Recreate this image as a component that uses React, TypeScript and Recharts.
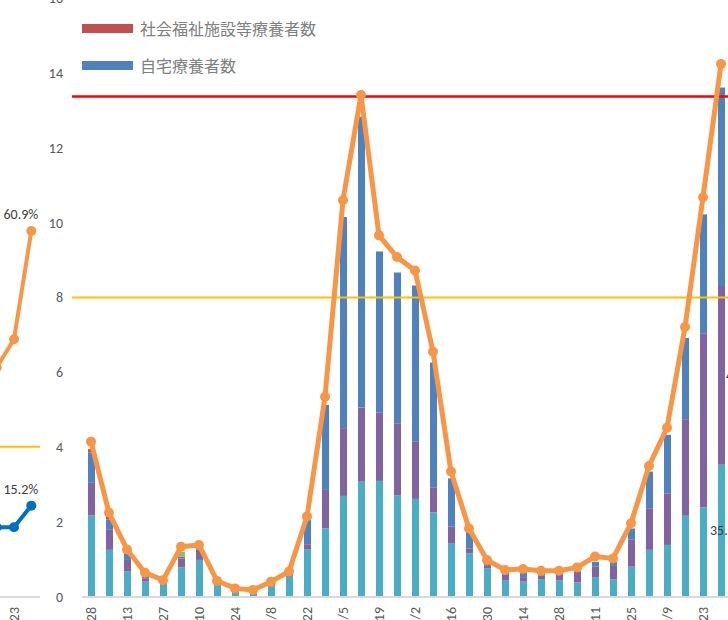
import React from 'react';
import { ComposedChart, Bar, Line, XAxis, YAxis, ReferenceLine, LabelList } from 'recharts';

// week labels (only every other one is printed)
const dates = [
  '2/28', '3/6', '3/13', '3/20', '3/27', '4/3', '4/10', '4/17', '4/24', '5/1',
  '5/8', '5/15', '5/22', '5/29', '6/5', '6/12', '6/19', '6/26', '7/2', '7/9',
  '7/16', '7/23', '7/30', '8/7', '8/14', '8/21', '8/28', '9/4', '9/11', '9/18',
  '9/25', '10/2', '10/9', '10/16', '10/23', '10/30',
];

// stacked segments (thousands)
const nyuin = [
  2.18, 1.26, 0.69, 0.41, 0.37, 0.79, 0.99, 0.32, 0.17, 0.08, 0.29, 0.54,
  1.28, 1.83, 2.7, 3.08, 3.1, 2.72, 2.62, 2.26, 1.44, 1.17, 0.77, 0.45,
  0.41, 0.48, 0.45, 0.39, 0.53, 0.47, 0.81, 1.26, 1.39, 2.17, 2.39, 3.53,
];
const shukuhaku = [
  0.87, 0.55, 0.3, 0.09, 0.03, 0.24, 0.27, 0.03, 0.02, 0.02, 0.03, 0.04,
  0.13, 1.03, 1.81, 1.98, 1.83, 1.92, 1.53, 0.67, 0.44, 0.13, 0.08, 0.14,
  0.12, 0.09, 0.14, 0.29, 0.28, 0.36, 0.73, 1.11, 1.38, 2.58, 4.64, 4.78,
];
const jitaku = [
  0.81, 0.26, 0.18, 0.09, 0.03, 0.05, 0.04, 0.02, 0.01, 0.01, 0.02, 0.03,
  0.65, 2.27, 5.64, 7.77, 4.3, 4.03, 4.17, 3.33, 1.29, 0.45, 0.07, 0.06,
  0.13, 0.05, 0.04, 0.03, 0.13, 0.11, 0.29, 0.98, 1.56, 2.17, 3.19, 5.3,
];
const chousei = [
  0, 0, 0, 0, 0, 0.13, 0, 0, 0, 0, 0, 0,
  0, 0, 0, 0, 0, 0, 0, 0, 0, 0, 0, 0,
  0, 0, 0, 0, 0, 0, 0, 0, 0, 0, 0, 0,
];
const shisetsu = [
  0.09, 0.07, 0.02, 0, 0, 0, 0, 0, 0, 0, 0, 0,
  0, 0, 0, 0, 0, 0, 0, 0, 0, 0, 0, 0,
  0, 0, 0, 0, 0, 0, 0, 0, 0, 0, 0, 0,
];
const total = [
  4.15, 2.25, 1.27, 0.65, 0.45, 1.34, 1.39, 0.43, 0.23, 0.19, 0.41, 0.68,
  2.15, 5.35, 10.6, 13.41, 9.66, 9.08, 8.72, 6.55, 3.35, 1.83, 0.99, 0.72,
  0.75, 0.7, 0.7, 0.79, 1.08, 1.03, 1.97, 3.5, 4.52, 7.21, 10.68, 14.24,
];
const yTicks = [0, 2, 4, 6, 8, 10, 12, 14, 16];
const redLine = 13.37;
const yellowLine = 8.0;
const lastLabels = { nyuin: '35.9%', shukuhaku: '41.4%' };

const legendItems = [
  { name: '社会福祉施設等療養者数', color: '#C0504D' },
  { name: '自宅療養者数', color: '#4F81BD' },
];

// neighbouring chart, right edge only
const leftDates = ['10/16', '10/23', '10/30'];
const leftOrange = [38.2, 42.9, 60.9];
const leftBlue = [11.6, 11.6, 15.2];
const leftShown = '10/23';
const leftLine = 25;

const data = dates.map((d, i) => ({
  date: d,
  nyuin: nyuin[i],
  shukuhaku: shukuhaku[i],
  jitaku: jitaku[i],
  chousei: chousei[i],
  shisetsu: shisetsu[i],
  total: total[i],
}));

const leftData = leftDates.map((d, i) => ({ date: d, a: leftOrange[i], b: leftBlue[i] }));

const FONT = 'Calibri, Carlito, "Noto Sans", "Noto Sans CJK JP", sans-serif';

const DateTick = (props: any) => {
  const { x, y, payload, index, show } = props;
  if (!show(payload.value, index)) return <g />;
  return (
    <text
      transform={`translate(${x},${y + 2}) rotate(-90)`}
      textAnchor="end"
      dy="0.35em"
      fill="#595959"
      fontSize={14}
      fontFamily={FONT}
    >
      {payload.value}
    </text>
  );
};

const extLine = (color: string, w: number) => (p: any) =>
  <line x1={p.x1 - 10} y1={p.y1} x2={p.x2} y2={p.y2} stroke={color} strokeWidth={w} />;

const lastBarLabel = (text: string, dx: number) => (p: any) => {
  if (p.index !== dates.length - 1) return null;
  return (
    <text x={p.x + dx} y={p.y + p.height / 2} dominantBaseline="central" fill="#404040" fontSize={14} fontFamily={FONT}>
      {text}
    </text>
  );
};

const endLabel = (p: any) => {
  if (p.index !== leftDates.length - 1) return null;
  return (
    <text x={p.x + 7} y={p.y - 16} textAnchor="end" dominantBaseline="central" fill="#404040" fontSize={14} fontFamily={FONT}>
      {`${p.value}%`}
    </text>
  );
};

export default function App() {
  return (
    <div style={{ position: 'absolute', left: 0, top: 0, width: 728, height: 620, overflow: 'hidden', background: '#fff' }}>
      <div style={{ position: 'absolute', left: -12, top: -24 }}>
        <ComposedChart width={52} height={680} data={leftData} margin={{ top: 20, right: 0, left: 0, bottom: 0 }}>
          <XAxis
            dataKey="date"
            interval={0}
            tickLine={false}
            height={59}
            padding={{ left: 8.7, right: 8.7 }}
            axisLine={{ stroke: '#D9D9D9', strokeWidth: 2 }}
            tick={<DateTick show={(v: string) => v === leftShown} />}
          />
          <YAxis hide domain={[0, 100]} />
          <ReferenceLine y={leftLine} stroke="#FFC000" strokeWidth={2} />
          <Line dataKey="a" stroke="#F79646" strokeWidth={4} dot={{ r: 5, fill: '#F79646', stroke: 'none' }} isAnimationActive={false}>
            <LabelList dataKey="a" content={endLabel} />
          </Line>
          <Line dataKey="b" stroke="#0070C0" strokeWidth={4} dot={{ r: 5, fill: '#0070C0', stroke: 'none' }} isAnimationActive={false}>
            <LabelList dataKey="b" content={endLabel} />
          </Line>
        </ComposedChart>
      </div>

      <div style={{ position: 'absolute', left: 0, top: -22 }}>
        <ComposedChart width={740} height={680} data={data} margin={{ top: 20, right: 10, left: 0, bottom: 0 }} barSize={7}>
          <XAxis
            dataKey="date"
            interval={0}
            tickLine={false}
            height={61}
            axisLine={{ stroke: '#D9D9D9', strokeWidth: 2 }}
            tick={<DateTick show={(_: string, i: number) => i % 2 === 0} />}
          />
          <YAxis
            domain={[0, 16]}
            ticks={yTicks}
            axisLine={false}
            tickLine={false}
            width={82}
            tickMargin={13}
            tick={{ fill: '#595959', fontSize: 14, fontFamily: FONT }}
          />
          <Bar dataKey="nyuin" stackId="s" fill="#4BACC6" isAnimationActive={false}>
            <LabelList dataKey="nyuin" content={lastBarLabel(lastLabels.nyuin, -8)} />
          </Bar>
          <Bar dataKey="shukuhaku" stackId="s" fill="#8064A2" isAnimationActive={false}>
            <LabelList dataKey="shukuhaku" content={lastBarLabel(lastLabels.shukuhaku, 8)} />
          </Bar>
          <Bar dataKey="jitaku" stackId="s" fill="#4F81BD" isAnimationActive={false} />
          <Bar dataKey="chousei" stackId="s" fill="#9BBB59" isAnimationActive={false} />
          <Bar dataKey="shisetsu" stackId="s" fill="#C0504D" isAnimationActive={false} />
          <ReferenceLine y={redLine} shape={extLine('#FF0000', 2.5)} />
          <ReferenceLine y={yellowLine} shape={extLine('#FFC000', 2)} />
          <Line
            dataKey="total"
            stroke="#F79646"
            strokeWidth={5}
            dot={{ r: 5, fill: '#F79646', stroke: 'none' }}
            isAnimationActive={false}
          />
        </ComposedChart>
      </div>

      {legendItems.map((it, i) => (
        <div key={it.name} style={{ position: 'absolute', left: 82, top: 17 + i * 37, height: 22, display: 'flex', alignItems: 'center' }}>
          <div style={{ width: 51, height: 9, background: it.color }} />
          <span style={{ marginLeft: 7, fontSize: 16, color: '#808080', fontFamily: '"Noto Sans CJK JP", sans-serif', lineHeight: '22px' }}>
            {it.name}
          </span>
        </div>
      ))}
    </div>
  );
}
